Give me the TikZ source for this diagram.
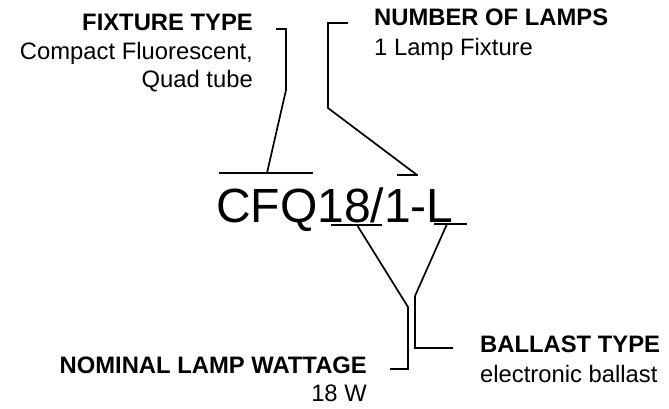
\documentclass[tikz,border=0pt]{standalone}
\usepackage{fontspec}
\setmainfont{Liberation Sans}
\usetikzlibrary{positioning}

\begin{document}
\begin{tikzpicture}[x=1pt, y=-1pt,
  head/.style={inner sep=0pt, font=\fontsize{23.8}{29}\selectfont\bfseries},
  note/.style={inner sep=0pt, font=\fontsize{23.8}{29}\selectfont},
  code/.style={inner sep=0pt, font=\fontsize{48}{56}\selectfont},
  lead/.style={line width=1.7pt, line join=miter}
]
  \useasboundingbox (0,0) rectangle (669,409);

  % designation
  \node[code, anchor=base west] (code) at (216,222) {CFQ18/1-L};

  % labels
  \node[head, anchor=base east] (fixt) at (253,31) {FIXTURE TYPE};
  \node[note, below=29pt of fixt.base east, anchor=base east] (fixt1) {Compact Fluorescent,};
  \node[note, below=28pt of fixt1.base east, anchor=base east] (fixt2) {Quad tube};

  \node[head, anchor=base west] (lamp) at (374,26) {NUMBER OF LAMPS};
  \node[note, below=30pt of lamp.base west, anchor=base west] (lamp1) {1 Lamp Fixture};

  \node[head, anchor=base east] (watt) at (367,373) {NOMINAL LAMP WATTAGE};
  \node[note, below=28pt of watt.base east, anchor=base east] (watt1) {18 W};

  \node[head, anchor=base west] (ball) at (480,352) {BALLAST TYPE};
  \node[note, below=30pt of ball.base west, anchor=base west] (ball1) {electronic ballast};

  % leader ends
  \coordinate (fixtA) at (276,29);
  \coordinate (fixtB) at (267,173);
  \coordinate (lampA) at (348,23);
  \coordinate (lampB) at (417,175);
  \coordinate (wattA) at (390,369);
  \coordinate (wattB) at (357,225);
  \coordinate (ballA) at (453,348);
  \coordinate (ballB) at (447,224);

  % rules at the code
  \draw[lead] (219,173) -- (313,173);
  \draw[lead] (397,175) -- (418,175);
  \draw[lead] (331,225) -- (382,225);
  \draw[lead] (434,224) -- (467,224);

  % leaders
  \draw[lead] (fixtA) -- (286,29) -- (286,90) -- (fixtB);
  \draw[lead] (lampA) -- (328,23) -- (328,108) -- (lampB);
  \draw[lead] (wattA) -- (408,369) -- (408,307) -- (wattB);
  \draw[lead] (ballA) -- (415,348) -- (415,296) -- (ballB);
\end{tikzpicture}
\end{document}
